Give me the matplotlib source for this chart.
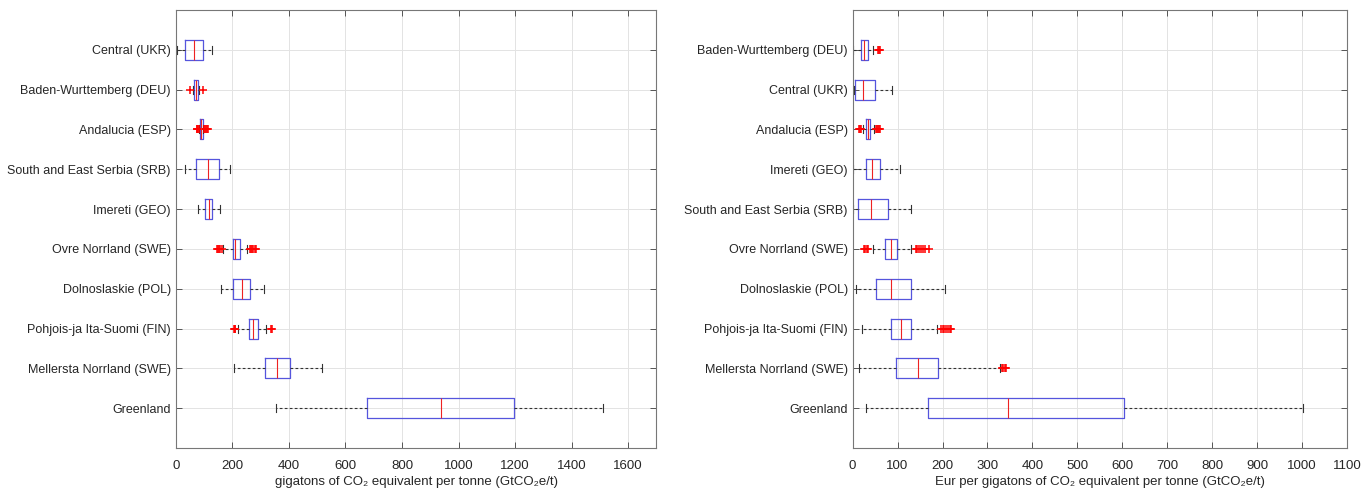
import matplotlib
matplotlib.use("Agg")
import matplotlib.pyplot as plt

plt.rcParams['font.family'] = ['Liberation Sans', 'DejaVu Sans']

# ---------------- data: left panel (emissions) ----------------
regions_left = ["Central (UKR)", "Baden-Wurttemberg (DEU)", "Andalucia (ESP)",
                "South and East Serbia (SRB)", "Imereti (GEO)", "Ovre Norrland (SWE)",
                "Dolnoslaskie (POL)", "Pohjois-ja Ita-Suomi (FIN)",
                "Mellersta Norrland (SWE)", "Greenland"]
em_whislo = [6, 60, 84, 32, 78, 167, 159, 222, 205, 356]
em_q1 = [34, 64, 87, 72, 104, 202, 203, 258, 316, 677]
em_med = [64, 72, 90, 113, 118, 211, 234, 274, 359, 937]
em_q3 = [98, 80, 95, 153, 130, 226, 263, 292, 405, 1196]
em_whishi = [130, 84, 97, 191, 156, 252, 312, 320, 518, 1511]
em_fliers = [[], [50, 95], [74, 77, 80, 82, 100, 103, 106, 110, 114], [], [],
             [146, 150, 154, 158, 162, 262, 266, 270, 274, 279, 285], [],
             [205, 208, 211, 338, 342], [], []]

# ---------------- data: right panel (cost) ----------------
regions_right = ["Baden-Wurttemberg (DEU)", "Central (UKR)", "Andalucia (ESP)",
                 "Imereti (GEO)", "South and East Serbia (SRB)", "Ovre Norrland (SWE)",
                 "Dolnoslaskie (POL)", "Pohjois-ja Ita-Suomi (FIN)",
                 "Mellersta Norrland (SWE)", "Greenland"]
cost_whislo = [1, 2, 22, 1, 1, 45, 7, 21, 15, 30]
cost_q1 = [18, 5, 30, 29, 13, 71, 52, 85, 97, 168]
cost_med = [25, 23, 34, 44, 41, 85, 85, 108, 145, 345]
cost_q3 = [35, 50, 38, 60, 79, 99, 129, 129, 191, 603]
cost_whishi = [45, 87, 48, 106, 131, 129, 206, 188, 327, 1002]
cost_fliers = [[57, 59, 61], [], [14, 16, 18, 52, 54, 56, 58, 60], [], [],
               [25, 28, 31, 34, 140, 144, 148, 152, 156, 160, 170], [],
               [196, 200, 204, 208, 212, 216, 220], [332, 335, 338, 342], []]

xlabel_left = "gigatons of CO\u2082 equivalent per tonne (GtCO\u2082e/t)"
xlabel_right = "Eur per gigatons of CO\u2082 equivalent per tonne (GtCO\u2082e/t)"


def make_stats(labels, lo, q1, med, q3, hi, fl):
    stats = []
    for i in range(len(labels)):
        stats.append(dict(label=labels[i], whislo=lo[i], q1=q1[i], med=med[i],
                          q3=q3[i], whishi=hi[i], fliers=fl[i]))
    return stats


def draw(ax, labels, stats, xmax, xtick_max, xstep, xlabel):
    n = len(labels)
    ax.bxp(stats, positions=list(range(1, n + 1)), vert=False, widths=0.5,
           capwidths=0.2, showfliers=True,
           boxprops=dict(color='#5555dd', linewidth=0.9),
           medianprops=dict(color='#ee2222', linewidth=0.8),
           whiskerprops=dict(color='#333333', linewidth=0.8, linestyle=(0, (2.5, 2.0))),
           capprops=dict(color='#333333', linewidth=0.8),
           flierprops=dict(marker='+', markeredgecolor='#ff0000', markersize=6,
                           markeredgewidth=1.1, linestyle='none'))
    ax.set_ylim(n + 1, 0)
    ax.set_yticks(range(1, n + 1))
    ax.set_yticklabels(labels, fontsize=9, color='#262626')
    ax.set_xticks(list(range(0, xtick_max + 1, xstep)))
    ax.set_xlim(0, xmax)
    ax.grid(True, color='#e3e3e3', linewidth=0.7)
    ax.set_axisbelow(True)
    ax.tick_params(direction='in', top=True, right=True, length=4,
                   color='#555555', width=0.7)
    ax.tick_params(axis='x', labelsize=9.5, labelcolor='#262626', pad=8.5)
    ax.set_xlabel(xlabel, fontsize=9.5, color='#262626', labelpad=3)
    for s in ax.spines.values():
        s.set_color('#777777')
        s.set_linewidth(0.8)


fig = plt.figure(figsize=(13.62, 4.94), dpi=100)
ax1 = fig.add_axes([0.129, 0.093, 0.353, 0.887])
ax2 = fig.add_axes([0.626, 0.093, 0.363, 0.887])

draw(ax1, regions_left,
     make_stats(regions_left, em_whislo, em_q1, em_med, em_q3, em_whishi, em_fliers),
     1700, 1600, 200, xlabel_left)
draw(ax2, regions_right,
     make_stats(regions_right, cost_whislo, cost_q1, cost_med, cost_q3, cost_whishi, cost_fliers),
     1100, 1100, 100, xlabel_right)

fig.savefig("out.png", dpi=100)
